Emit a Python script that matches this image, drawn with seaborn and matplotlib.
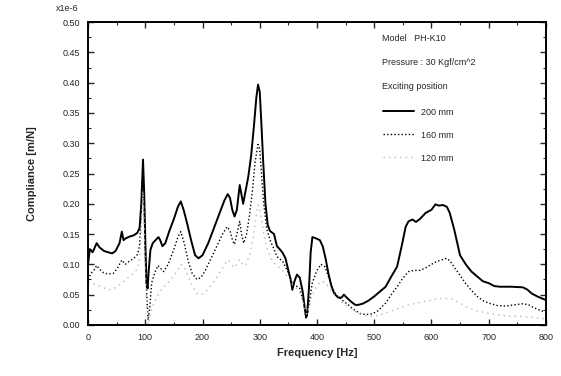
import matplotlib
matplotlib.use("Agg")
import matplotlib.pyplot as plt
from matplotlib.ticker import MultipleLocator, FormatStrFormatter
import seaborn as sns
import pandas as pd

# 200 mm (solid)
freq_200 = [0, 3, 8, 15, 20, 28, 35, 42, 48, 55, 59, 62, 66, 73, 80, 86, 90, 93, 96, 98,
            100, 102, 104, 106, 109, 113, 118, 123, 126, 130, 135, 142, 150, 157, 162, 167,
            173, 180, 187, 193, 200, 210, 220, 230, 238, 244, 248, 252, 256, 260, 265, 268,
            271, 275, 280, 285, 290, 294, 297, 300, 303, 306, 310, 314, 318, 325, 330, 335,
            340, 345, 350, 354, 357, 360, 365, 370, 375, 379, 381, 383, 386, 389, 392, 398,
            405, 410, 415, 420, 425, 430, 437, 443, 447, 452, 460, 467, 472, 480, 490, 500,
            510, 520, 530, 540, 548, 555, 560, 567, 573, 580, 590, 600, 607, 613, 620, 627,
            632, 640, 650, 660, 670, 680, 690, 700, 710, 720, 740, 760, 768, 775, 785, 800]
comp_200 = [0.100, 0.125, 0.120, 0.135, 0.128, 0.122, 0.120, 0.118, 0.122, 0.135, 0.154, 0.140,
            0.143, 0.146, 0.148, 0.152, 0.160, 0.200, 0.273, 0.220, 0.140, 0.070, 0.060, 0.090,
            0.124, 0.135, 0.140, 0.145, 0.140, 0.130, 0.135, 0.155, 0.175, 0.195, 0.204, 0.190,
            0.168, 0.140, 0.115, 0.110, 0.115, 0.135, 0.160, 0.185, 0.205, 0.216, 0.210, 0.190,
            0.179, 0.190, 0.231, 0.215, 0.200, 0.220, 0.245, 0.280, 0.330, 0.375, 0.397, 0.385,
            0.330, 0.270, 0.200, 0.165, 0.155, 0.150, 0.130, 0.125, 0.119, 0.110, 0.090, 0.075,
            0.058, 0.070, 0.083, 0.078, 0.055, 0.025, 0.012, 0.020, 0.060, 0.120, 0.145, 0.143,
            0.140, 0.130, 0.110, 0.085, 0.065, 0.052, 0.045, 0.045, 0.050, 0.045, 0.038, 0.033,
            0.033, 0.035, 0.040, 0.047, 0.055, 0.063, 0.080, 0.096, 0.130, 0.162, 0.171, 0.174,
            0.170, 0.175, 0.185, 0.190, 0.199, 0.197, 0.198, 0.195, 0.185, 0.157, 0.115, 0.100,
            0.088, 0.080, 0.072, 0.069, 0.064, 0.063, 0.063, 0.062, 0.058, 0.052, 0.047, 0.041]

# 160 mm (dotted black)
freq_160 = [0, 5, 10, 15, 20, 27, 35, 44, 50, 55, 59, 65, 72, 80, 86, 90, 93, 96, 98, 100,
            103, 105, 108, 111, 116, 122, 127, 132, 140, 150, 157, 162, 168, 175, 182, 190,
            197, 205, 215, 225, 235, 243, 248, 253, 256, 260, 265, 268, 272, 277, 282, 287,
            292, 297, 300, 303, 307, 312, 318, 325, 330, 340, 350, 357, 363, 370, 376, 380,
            383, 387, 392, 400, 407, 414, 420, 427, 435, 445, 455, 465, 475, 485, 495, 505,
            520, 530, 540, 550, 560, 570, 580, 590, 600, 610, 620, 627, 633, 640, 650, 660,
            670, 680, 690, 700, 715, 730, 745, 760, 770, 780, 790, 800]
comp_160 = [0.075, 0.085, 0.090, 0.098, 0.092, 0.086, 0.084, 0.085, 0.092, 0.100, 0.107, 0.100,
            0.105, 0.110, 0.116, 0.130, 0.190, 0.250, 0.200, 0.110, 0.040, 0.008, 0.030, 0.069,
            0.085, 0.098, 0.093, 0.088, 0.100, 0.125, 0.145, 0.154, 0.135, 0.105, 0.085, 0.075,
            0.078, 0.090, 0.110, 0.130, 0.150, 0.162, 0.155, 0.138, 0.133, 0.150, 0.171, 0.150,
            0.135, 0.150, 0.180, 0.220, 0.270, 0.298, 0.290, 0.250, 0.200, 0.160, 0.140, 0.125,
            0.113, 0.105, 0.086, 0.068, 0.065, 0.060, 0.040, 0.020, 0.015, 0.040, 0.070, 0.090,
            0.100, 0.096, 0.080, 0.060, 0.048, 0.040, 0.033, 0.025, 0.019, 0.017, 0.018, 0.022,
            0.036, 0.050, 0.063, 0.077, 0.088, 0.090, 0.090, 0.094, 0.100, 0.105, 0.108, 0.110,
            0.105, 0.095, 0.082, 0.068, 0.057, 0.047, 0.040, 0.036, 0.032, 0.031, 0.033, 0.035,
            0.033, 0.028, 0.024, 0.021]

# 120 mm (light grey dots)
freq_120 = [0, 10, 20, 30, 39, 50, 60, 70, 80, 86, 90, 93, 96, 98, 100, 103, 105, 108, 112,
            120, 128, 135, 145, 155, 162, 168, 175, 183, 190, 198, 206, 215, 222, 232, 240,
            245, 250, 255, 260, 265, 270, 275, 282, 288, 293, 297, 300, 304, 309, 315, 322,
            330, 340, 350, 358, 365, 372, 378, 382, 386, 392, 400, 408, 415, 422, 430, 440,
            450, 460, 470, 480, 490, 500, 515, 530, 545, 560, 575, 590, 605, 620, 635, 650,
            665, 680, 700, 720, 740, 760, 780, 800]
comp_120 = [0.070, 0.068, 0.064, 0.060, 0.058, 0.062, 0.070, 0.078, 0.086, 0.092, 0.110, 0.160,
            0.220, 0.170, 0.090, 0.030, 0.000, 0.015, 0.030, 0.045, 0.058, 0.065, 0.075, 0.088,
            0.100, 0.095, 0.080, 0.063, 0.052, 0.050, 0.055, 0.065, 0.074, 0.090, 0.102, 0.107,
            0.100, 0.095, 0.100, 0.108, 0.100, 0.098, 0.115, 0.140, 0.175, 0.198, 0.190, 0.170,
            0.140, 0.120, 0.105, 0.098, 0.090, 0.078, 0.065, 0.060, 0.050, 0.030, 0.018, 0.030,
            0.050, 0.065, 0.072, 0.070, 0.060, 0.050, 0.040, 0.033, 0.026, 0.020, 0.016, 0.014,
            0.014, 0.018, 0.023, 0.028, 0.033, 0.036, 0.039, 0.042, 0.044, 0.043, 0.036, 0.028,
            0.023, 0.019, 0.016, 0.014, 0.014, 0.012, 0.010]

sns.set_theme(style="ticks")
plt.rcParams["font.family"] = ["Liberation Sans", "DejaVu Sans"]

fig = plt.figure(figsize=(5.61, 3.76), dpi=100)
ax = fig.add_axes([0.157, 0.136, 0.816, 0.805])

series = [
    ("200 mm", freq_200, comp_200, dict(color="black", linewidth=1.4, linestyle="-")),
    ("160 mm", freq_160, comp_160, dict(color="black", linewidth=1.0, linestyle=(0, (1, 1.6)))),
    ("120 mm", freq_120, comp_120, dict(color="#b8b8b8", linewidth=1.0, linestyle=(0, (1, 3)))),
]
for label, f, c, style in series:
    df = pd.DataFrame({"freq": f, "comp": c})
    sns.lineplot(data=df, x="freq", y="comp", ax=ax, estimator=None, sort=False,
                 label=label, **style)

ax.set_xlim(0, 800)
ax.set_ylim(0, 0.5)
ax.xaxis.set_major_locator(MultipleLocator(100))
ax.xaxis.set_minor_locator(MultipleLocator(50))
ax.yaxis.set_major_locator(MultipleLocator(0.05))
ax.yaxis.set_minor_locator(MultipleLocator(0.025))
ax.yaxis.set_major_formatter(FormatStrFormatter("%.2f"))
ax.tick_params(which="both", direction="in", top=True, right=True, labelsize=6.5, pad=6)
ax.tick_params(which="major", length=4, width=1)
ax.tick_params(which="minor", length=2, width=0.8)
for sp in ax.spines.values():
    sp.set_linewidth(1.4)
    sp.set_color("black")

ax.set_xlabel("Frequency [Hz]", fontsize=8, fontweight="bold", labelpad=4)
ax.set_ylabel("Compliance [m/N]", fontsize=8, fontweight="bold", labelpad=18)
ax.text(-0.02, 1.03, "x1e-6", transform=ax.transAxes, fontsize=6.5, ha="right", va="bottom")

# header lines of the legend block
ax.text(0.642, 0.947, "Model   PH-K10", transform=ax.transAxes, fontsize=6.5, va="center")
ax.text(0.642, 0.868, "Pressure : 30 Kgf/cm^2", transform=ax.transAxes, fontsize=6.5, va="center")
ax.text(0.642, 0.789, "Exciting position", transform=ax.transAxes, fontsize=6.5, va="center")
ax.legend(loc="upper left", bbox_to_anchor=(0.644, 0.718), frameon=False, fontsize=6.5,
          handlelength=3.4, handletextpad=0.8, labelspacing=1.55, borderpad=0, borderaxespad=0)

fig.savefig("out.png", dpi=100)
